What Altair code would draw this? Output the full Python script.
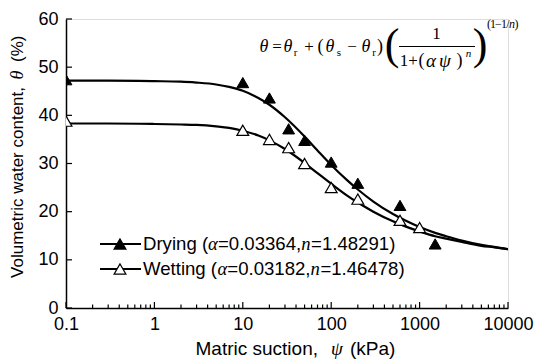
import altair as alt
import pandas as pd

# Measured suction (kPa) and volumetric water content (%)
drying_psi = [0.1, 10, 20, 33, 50, 100, 200, 600, 1500]
drying_theta = [47.4, 46.8, 43.6, 37.2, 34.8, 30.3, 25.9, 21.3, 13.3]
wetting_psi = [0.1, 10, 20, 33, 50, 100, 200, 600, 1000]
wetting_theta = [38.8, 36.9, 35.0, 33.3, 30.0, 25.0, 22.6, 18.2, 16.7]

# Fitted van Genuchten curves, sampled along the suction axis
curve_psi = [0.1, 0.3, 1, 2, 3, 5, 7, 10, 15, 20, 30, 50, 70, 100, 150, 200,
             300, 500, 700, 1000, 1500, 2000, 3000, 5000, 7000, 10000]
drying_curve = [47.2, 47.2, 47.1, 47.0, 46.8, 46.4, 45.9, 45.1, 43.6, 42.2, 39.6,
                35.6, 32.7, 29.7, 26.6, 24.6, 22.1, 19.5, 18.1, 16.8, 15.6, 14.9,
                14.0, 13.1, 12.7, 12.2]
wetting_curve = [38.3, 38.3, 38.2, 38.1, 38.0, 37.7, 37.4, 36.8, 35.8, 34.8, 33.0,
                 30.1, 28.0, 25.8, 23.4, 21.9, 20.0, 18.0, 16.9, 15.9, 14.9, 14.4,
                 13.7, 12.9, 12.6, 12.2]

legend_rows = [
    ("Drying", "0.03364", "1.48291"),
    ("Wetting", "0.03182", "1.46478"),
]

x_ticks = [0.1, 1, 10, 100, 1000, 10000]
x_minor = [m * d for d in [0.1, 1, 10, 100, 1000] for m in range(2, 10)]
y_ticks = [0, 10, 20, 30, 40, 50, 60]

W, H = 442, 289
SANS = "Liberation Sans"
SERIF = "Liberation Serif"

xscale = alt.Scale(type="log", domain=[0.1, 10000], nice=False)
yscale = alt.Scale(domain=[0, 60], nice=False)

pts = pd.DataFrame(
    {"psi": drying_psi + wetting_psi,
     "theta": drying_theta + wetting_theta,
     "series": ["Drying"] * len(drying_psi) + ["Wetting"] * len(wetting_psi)}
)
curves = pd.DataFrame(
    {"psi": curve_psi * 2,
     "theta": drying_curve + wetting_curve,
     "series": ["Drying"] * len(curve_psi) + ["Wetting"] * len(curve_psi)}
)

X = alt.X("psi:Q", scale=xscale,
          axis=alt.Axis(values=x_ticks, format="~g", title=None, grid=False,
                        ticks=False, labelPadding=7, labelFontSize=18,
                        labelFont=SANS, labelColor="black", domainColor="black",
                        domainWidth=1.5, labelFlush=False))
Y = alt.Y("theta:Q", scale=yscale,
          axis=alt.Axis(values=y_ticks, title=None, grid=False, ticks=False,
                        labelPadding=8, labelFontSize=18, labelFont=SANS,
                        labelColor="black", domainColor="black", domainWidth=1.5))

lines = alt.Chart(curves).mark_line(
    color="black", strokeWidth=2.2, interpolate="monotone", clip=True
).encode(x=X, y=Y, detail="series:N")

dry_pts = alt.Chart(pts).transform_filter(alt.datum.series == "Drying").mark_point(
    shape="triangle-up", size=140, filled=True, fill="black", stroke="black",
    strokeWidth=1, opacity=1, clip=True
).encode(x=X, y=Y)

wet_pts = alt.Chart(pts).transform_filter(alt.datum.series == "Wetting").mark_point(
    shape="triangle-up", size=140, filled=True, fill="white", stroke="black",
    strokeWidth=1.2, opacity=1, clip=True
).encode(x=X, y=Y)

# Inward-pointing tick marks
xmaj = alt.Chart(pd.DataFrame({"v": x_ticks})).mark_rule(color="black", strokeWidth=1.2).encode(
    x=alt.X("v:Q", scale=xscale), y=alt.value(H), y2=alt.value(H - 6))
xmin = alt.Chart(pd.DataFrame({"v": x_minor})).mark_rule(color="black", strokeWidth=1.2).encode(
    x=alt.X("v:Q", scale=xscale), y=alt.value(H), y2=alt.value(H - 3.5))
ymaj = alt.Chart(pd.DataFrame({"v": y_ticks})).mark_rule(color="black", strokeWidth=1.2).encode(
    y=alt.Y("v:Q", scale=yscale), x=alt.value(0), x2=alt.value(6))

one = alt.Data(values=[{}])


def txt(s, x, y, size=18, font=SANS, style="normal", align="left",
        baseline="middle", angle=0):
    kw = dict(align=align, baseline=baseline, font=font, fontSize=size,
              fontStyle=style, color="black")
    if angle:
        kw["angle"] = angle
    return alt.Chart(one).mark_text(**kw).encode(
        x=alt.value(x), y=alt.value(y), text=alt.value(s))


def rule(x1, x2, y1, y2, w=2.2):
    return alt.Chart(one).mark_rule(color="black", strokeWidth=w).encode(
        x=alt.value(x1), x2=alt.value(x2), y=alt.value(y1), y2=alt.value(y2))


def tri(x, y, fill):
    return alt.Chart(one).mark_point(
        shape="triangle-up", size=140, filled=True, fill=fill, stroke="black",
        strokeWidth=1.2, opacity=1).encode(x=alt.value(x), y=alt.value(y))


# Approximate advance widths (em) of Liberation Sans glyphs
SANS_EM = {c: 0.556 for c in "0123456789"}
SANS_EM.update({".": 0.278, ",": 0.278, "=": 0.584, "(": 0.333, ")": 0.333,
                " ": 0.278, "D": 0.722, "W": 0.944, "r": 0.333, "y": 0.5,
                "i": 0.222, "n": 0.556, "g": 0.556, "e": 0.556, "t": 0.278})


def run(pieces, x0, y, size):
    """Lay out a row of text pieces left to right; returns text layers."""
    out = []
    x = x0
    for s, italic in pieces:
        if italic:
            out.append(txt(s, x, y, size, SERIF, "italic"))
            x += 0.53 * size * len(s)
        else:
            out.append(txt(s, x, y, size))
            x += sum(SANS_EM.get(c, 0.556) for c in s) * size
    return out


def glyph(s, x, y, size, italic=False):
    """One serif glyph of the equation, centred on (x, y) in figure pixels."""
    return txt(s, x - ox, y - oy, size, SERIF, "italic" if italic else "normal",
               align="center")


# Offsets relative to the plot origin
ox, oy = 66, 19

layers = [lines, dry_pts, wet_pts, xmaj, xmin, ymaj]

# Legend
LEG = 18.6
for (label, a_val, n_val), row_y, fill in zip(legend_rows, [244, 269], ["black", "white"]):
    y = row_y - oy
    layers += [rule(100 - ox, 141 - ox, y, y, 2.2), tri(120 - ox, y, fill)]
    layers += run([(label + " (", False), ("α", True), ("=" + a_val + ",", False),
                   ("n", True), ("=" + n_val + ")", False)], 143 - ox, y, LEG)

# Axis titles
layers += [
    txt("Matric suction, ", 318 - ox, 349 - oy, 19, align="right"),
    txt("ψ", 337 - ox, 349 - oy, 19, SERIF, "italic", align="center"),
    txt("(kPa)", 350 - ox, 349 - oy, 19),
    txt("Volumetric water content,", 18 - ox, 87 - oy, 17, align="right", angle=270),
    txt("θ", 18 - ox, 75 - oy, 18, SERIF, "italic", align="center", angle=270),
    txt("(%)", 18 - ox, 62 - oy, 17, angle=270),
]

# Retention equation
ey = 47
layers += [
    glyph("θ", 264, ey, 18, True),
    glyph("=", 277, ey, 17),
    glyph("θ", 288, ey, 18, True),
    glyph("r", 295.5, ey + 6, 11),
    glyph("+", 309, ey, 17),
    glyph("(", 320.5, ey, 18),
    glyph("θ", 330, ey, 18, True),
    glyph("s", 339, ey + 6, 11),
    glyph("−", 352, ey, 17),
    glyph("θ", 366, ey, 18, True),
    glyph("r", 374, ey + 6, 11),
    glyph(")", 380, ey, 18),
    glyph("(", 392, ey - 1, 44),
    glyph("1", 436.5, 34, 17),
    rule(399 - ox, 475 - ox, 46.5 - oy, 46.5 - oy, 1),
    glyph("1", 404, 61, 17),
    glyph("+", 413, 61, 17),
    glyph("(", 421.5, 61, 18),
    glyph("α", 431, 61, 19, True),
    glyph("ψ", 445, 61, 19, True),
    glyph(")", 459.5, 61, 18),
    glyph("n", 468.5, 54, 11, True),
    glyph(")", 480, ey - 1, 44),
    glyph("(", 489, 24, 12),
    glyph("1", 493, 24, 12),
    glyph("−", 498.5, 24, 12),
    glyph("1", 504, 24, 12),
    glyph("/", 508, 24, 12),
    glyph("n", 512, 24, 12, True),
    glyph(")", 516.5, 24, 12),
]

chart = alt.layer(*layers).properties(
    width=W, height=H,
    autosize=alt.AutoSizeParams(type="none"),
    padding={"left": ox, "top": oy, "right": 537 - ox - W, "bottom": 360 - oy - H},
).configure_view(stroke=None).configure(background="white")

chart.save("out.html", embed_options={"renderer": "svg", "actions": False})
